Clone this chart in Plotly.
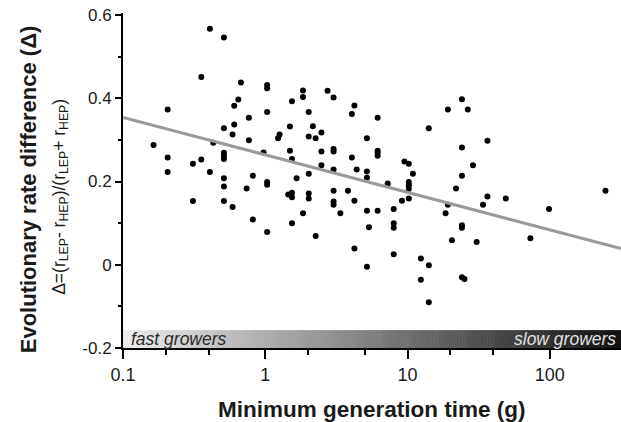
import numpy as np
import plotly.graph_objects as go

# Minimum generation time (hours) for each genome pair
gen_time = [
    0.408, 0.512, 0.355, 0.206, 0.512, 0.164, 0.431, 0.206, 0.310, 0.355,
    0.512, 0.512, 0.512, 0.206, 0.408, 0.512, 0.512, 0.310, 0.512,
    0.674, 1.03, 1.03, 1.84, 1.84, 0.646, 0.605, 1.54, 1.03, 0.767,
    0.605, 1.49, 0.589, 1.26, 1.23, 0.767, 0.973, 1.49, 1.54, 0.818,
    1.03, 1.03, 1.66, 0.739, 1.45, 1.54, 1.54, 0.589, 1.84, 0.818,
    1.54, 1.03,
    2.02, 2.02, 2.02, 2.02, 2.02,
    2.74, 3.02, 4.23, 4.06, 6.16, 2.16, 2.26, 2.48, 5.18, 2.48,
    3.02, 3.02, 4.06, 6.16, 6.16, 6.16, 2.48, 3.02, 4.39, 5.18,
    5.18, 7.25, 3.02, 3.81, 3.02, 3.02, 4.23, 3.37, 5.18, 6.16,
    5.35, 2.26, 4.23, 5.18,
    24.1, 19.2, 26.5, 14.1, 24.1, 9.50, 10.2, 10.9, 24.1, 10.2,
    10.2, 10.2, 10.2, 21.9, 9.13, 19.2, 18.5, 7.99, 7.99, 7.99,
    24.1, 24.1, 20.5, 7.99, 12.4, 14.1, 12.4, 24.1, 25.1, 14.1,
    36.4, 28.8, 36.4, 33.9, 49.0, 98.7, 246.0, 30.6, 73.0,
]

# Evolutionary rate difference for the same pairs
delta = [
    0.567, 0.546, 0.451, 0.373, 0.328, 0.288, 0.293, 0.258, 0.243, 0.253,
    0.269, 0.262, 0.254, 0.223, 0.223, 0.208, 0.188, 0.153, 0.153,
    0.438, 0.432, 0.424, 0.419, 0.403, 0.397, 0.382, 0.393, 0.367, 0.353,
    0.337, 0.332, 0.313, 0.313, 0.304, 0.299, 0.270, 0.274, 0.254, 0.214,
    0.199, 0.192, 0.208, 0.183, 0.169, 0.173, 0.162, 0.139, 0.124, 0.109,
    0.100, 0.079,
    0.367, 0.308, 0.219, 0.171, 0.159,
    0.418, 0.402, 0.383, 0.362, 0.353, 0.333, 0.304, 0.318, 0.304, 0.272,
    0.278, 0.272, 0.258, 0.274, 0.269, 0.262, 0.239, 0.229, 0.229, 0.224,
    0.209, 0.195, 0.178, 0.178, 0.152, 0.144, 0.154, 0.124, 0.130, 0.130,
    0.090, 0.069, 0.039, -0.005,
    0.398, 0.373, 0.373, 0.328, 0.282, 0.248, 0.243, 0.219, 0.214, 0.199,
    0.191, 0.182, 0.159, 0.183, 0.154, 0.144, 0.124, 0.134, 0.100, 0.089,
    0.095, 0.089, 0.059, 0.025, 0.015, -0.001, -0.036, -0.030, -0.034, -0.090,
    0.298, 0.239, 0.164, 0.144, 0.159, 0.134, 0.178, 0.055, 0.064,
]

# Regression of delta on log10(generation time)
fit_intercept = 0.264
fit_slope = -0.090
x_range_log = [-1.0, 2.5]

x_tick_vals = [0.1, 1, 10, 100]
x_tick_text = ["0.1", "1", "10", "100"]
x_minor_vals = [0.2, 0.4, 2, 5, 20, 40]
y_tick_vals = [-0.2, 0, 0.2, 0.4, 0.6]
y_tick_text = ["-0.2", "0", "0.2", "0.4", "0.6"]
y_minor_vals = [-0.1, 0.1, 0.3, 0.5]

band_bottom, band_top = -0.2, -0.157

FONT = "Liberation Sans, Arial, Helvetica, sans-serif"
INK = "#1a1a1a"

fig = go.Figure()

fig.add_trace(go.Scatter(
    x=gen_time, y=delta, mode="markers",
    marker=dict(size=6, color="#000000", line=dict(width=0)),
    showlegend=False, hoverinfo="x+y",
))

fit_x = np.logspace(x_range_log[0], x_range_log[1], 50)
fit_y = fit_intercept + fit_slope * np.log10(fit_x)
fig.add_trace(go.Scatter(
    x=fit_x, y=fit_y, mode="lines",
    line=dict(color="#9a9a9a", width=3.2),
    showlegend=False, hoverinfo="skip",
))

# Grey-to-black band along the bottom of the plot (fast -> slow growers)
shapes = []
n_steps = 160
for i in range(n_steps):
    t = i / (n_steps - 1)
    g = int(round(236 - (236 - 18) * t))
    shapes.append(dict(
        type="rect", xref="x domain", yref="y",
        x0=i / n_steps, x1=(i + 1) / n_steps + 0.001,
        y0=band_bottom, y1=band_top,
        fillcolor=f"rgb({g},{g},{g})", line=dict(width=0), layer="below",
    ))

annotations = [
    dict(text="<i>fast growers</i>", xref="x domain", yref="y", x=0.012,
         y=(band_bottom + band_top) / 2, xanchor="left", yanchor="middle",
         showarrow=False, font=dict(family=FONT, size=17.5, color="#2a2a2a")),
    dict(text="<i>slow growers</i>", xref="x domain", yref="y", x=0.994,
         y=(band_bottom + band_top) / 2, xanchor="right", yanchor="middle",
         showarrow=False, font=dict(family=FONT, size=17.5, color="#e0e0e0")),
    dict(text="<b>Evolutionary rate difference (Δ)</b>", xref="paper", yref="paper",
         x=-0.19, y=0.475, xanchor="center", yanchor="middle", textangle=-90,
         showarrow=False, font=dict(family=FONT, size=22, color=INK)),
    dict(text="Δ=(r<sub>LEP</sub>- r<sub>HEP</sub>)/(r<sub>LEP</sub>+ r<sub>HEP</sub>)",
         xref="paper", yref="paper", x=-0.126, y=0.452, xanchor="center",
         yanchor="middle", textangle=-90, showarrow=False,
         font=dict(family=FONT, size=17.5, color=INK)),
    dict(text="<b>Minimum generation time (g)</b>", xref="paper", yref="paper",
         x=0.5, y=-0.185, xanchor="center", yanchor="middle", showarrow=False,
         font=dict(family=FONT, size=22.5, color=INK)),
]

fig.update_layout(
    width=621, height=422,
    margin=dict(l=123, r=0, t=13, b=74),
    paper_bgcolor="white", plot_bgcolor="white",
    shapes=shapes, annotations=annotations,
    font=dict(family=FONT, color=INK),
)

fig.update_xaxes(
    type="log", range=x_range_log,
    tickvals=x_tick_vals, ticktext=x_tick_text,
    ticks="outside", ticklen=9, tickwidth=2, tickcolor="#000",
    showline=True, linecolor="#000", linewidth=2,
    showgrid=False, zeroline=False,
    tickfont=dict(family=FONT, size=18, color=INK),
    minor=dict(tickvals=x_minor_vals, ticks="outside", ticklen=5,
               tickwidth=2, tickcolor="#000", showgrid=False),
)

fig.update_yaxes(
    range=[-0.2, 0.605],
    tickvals=y_tick_vals, ticktext=y_tick_text,
    ticks="outside", ticklen=6, tickwidth=2, tickcolor="#000",
    showline=True, linecolor="#000", linewidth=2,
    showgrid=False, zeroline=False,
    tickfont=dict(family=FONT, size=17, color=INK),
    minor=dict(tickvals=y_minor_vals, ticks="outside", ticklen=3,
               tickwidth=2, tickcolor="#000", showgrid=False),
)

fig.write_html("out.html")
